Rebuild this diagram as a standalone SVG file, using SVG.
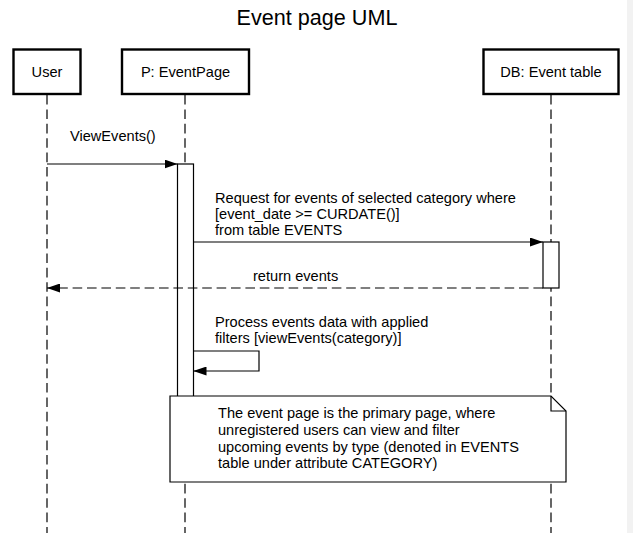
<svg xmlns="http://www.w3.org/2000/svg" width="633" height="533" viewBox="0 0 633 533">
<defs>
<style>
text{font-family:"Liberation Sans",Arial,Helvetica,sans-serif;font-size:14.6px;fill:#000}
.title{font-size:21.6px}
.c{text-anchor:middle}
.box{fill:#fff;stroke:#000;stroke-width:2.4}
.life{stroke:#000;stroke-width:1.2;stroke-dasharray:9.6 4.8;fill:none}
.act{fill:#fff;stroke:#000;stroke-width:1.2}
.msg{stroke:#000;stroke-width:1.2;fill:none}
.dash{stroke-dasharray:9.6 4.8}
.note{fill:#fff;stroke:#000;stroke-width:1.2}
</style>
<marker id="arr" viewBox="0 0 13 9" refX="13" refY="4.5" markerWidth="13" markerHeight="9" markerUnits="userSpaceOnUse" orient="auto"><path d="M0,0L13,4.5L0,9Z" fill="#000"/></marker>
</defs>
<rect x="0" y="0" width="633" height="533" fill="#fff"/>
<rect x="627" y="0" width="6" height="533" fill="#f2f2f2"/>
<text class="title c" x="317" y="25">Event page UML</text>

<g id="user">
<line class="life" x1="47" y1="95" x2="47" y2="533"/>
<rect class="box" x="13.5" y="49.5" width="67" height="44.5"/>
<text class="c" x="47" y="77">User</text>
</g>
<g id="eventpage">
<line class="life" x1="185" y1="95" x2="185" y2="533"/>
<rect class="box" x="122" y="49.5" width="127" height="44.5"/>
<text class="c" x="185.5" y="77">P: EventPage</text>
<rect class="act" x="177.5" y="164" width="16" height="236"/>
</g>
<g id="eventtable">
<line class="life" x1="551" y1="95" x2="551" y2="533"/>
<rect class="box" x="483.5" y="49.5" width="135" height="44.5"/>
<text class="c" x="551" y="77">DB: Event table</text>
<rect class="act" x="543" y="242" width="16" height="46"/>
</g>

<g id="connectors">
<line class="msg" x1="47" y1="164" x2="177.5" y2="164" marker-end="url(#arr)"/>
<text x="70" y="141">ViewEvents()</text>
<line class="msg" x1="193.5" y1="242" x2="543" y2="242" marker-end="url(#arr)"/>
<text x="215" y="203">Request for events of selected category where</text>
<text x="215" y="219">[event_date &gt;= CURDATE()]</text>
<text x="215" y="235">from table EVENTS</text>
<line class="msg dash" x1="543" y1="288" x2="47" y2="288" marker-end="url(#arr)"/>
<text x="253" y="281">return events</text>
<path class="msg" d="M193.5,351H259V371H193.5" marker-end="url(#arr)"/>
<text x="215" y="327">Process events data with applied</text>
<text x="215" y="343">filters [viewEvents(category)]</text>
</g>

<g id="note">
<path class="note" d="M170,396H551L566,411V482H170Z"/>
<path class="msg" d="M551,396V411H566"/>
<text x="218" y="418">The event page is the primary page, where</text>
<text x="218" y="435">unregistered users can view and filter</text>
<text x="218" y="452">upcoming events by type (denoted in EVENTS</text>
<text x="218" y="468">table under attribute CATEGORY)</text>
</g>
</svg>
